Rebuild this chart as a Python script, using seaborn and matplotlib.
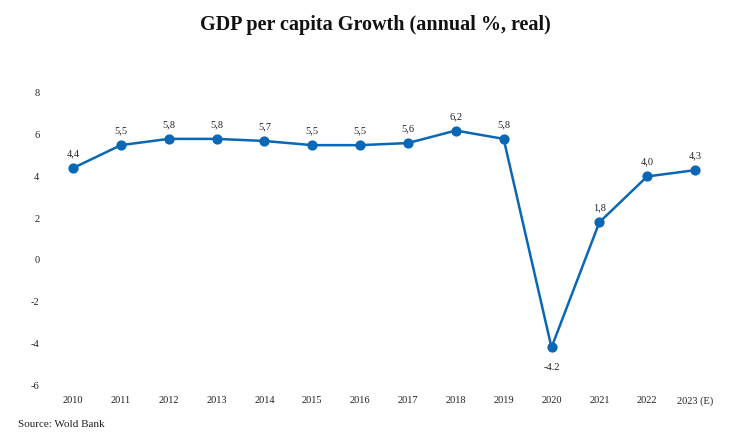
import matplotlib
matplotlib.use("Agg")
import matplotlib.pyplot as plt
import seaborn as sns
import pandas as pd

years = ["2010", "2011", "2012", "2013", "2014", "2015", "2016", "2017",
         "2018", "2019", "2020", "2021", "2022", "2023 (E)"]
growth = [4.4, 5.5, 5.8, 5.8, 5.7, 5.5, 5.5, 5.6, 6.2, 5.8, -4.2, 1.8, 4.0, 4.3]
value_labels = ["4,4", "5,5", "5,8", "5,8", "5,7", "5,5", "5,5", "5,6",
                "6,2", "5,8", "-4.2", "1,8", "4,0", "4,3"]
y_ticks = [-6, -4, -2, 0, 2, 4, 6, 8]

df = pd.DataFrame({"year": years, "growth": growth})

sns.set_theme(style="white")
plt.rcParams["font.family"] = ["Liberation Serif", "DejaVu Serif"]

W, H = 750, 440
fig = plt.figure(figsize=(W / 100, H / 100), dpi=100)
left_px, right_px, top_px, bottom_px = 45, 722, 93, 385
ax = fig.add_axes([left_px / W, 1 - bottom_px / H,
                   (right_px - left_px) / W, (bottom_px - top_px) / H])

color = "#0a67b5"
sns.pointplot(data=df, x="year", y="growth", color=color, ax=ax,
              markers="o", markersize=6, linewidth=1.8, errorbar=None)

step = 47.85
x0 = (73 - left_px) / step
ax.set_xlim(-x0, -x0 + (right_px - left_px) / step)
ax.set_ylim(-6, 8)
ax.set_yticks(y_ticks)
ax.set_yticklabels([str(t) for t in y_ticks])

for i, (v, lab) in enumerate(zip(growth, value_labels)):
    if v < 0:
        ax.annotate(lab, (i, v), xytext=(0, -11), textcoords="offset points",
                    ha="center", va="top", fontsize=7.5, color="#222222")
    else:
        ax.annotate(lab, (i, v), xytext=(0, 7), textcoords="offset points",
                    ha="center", va="bottom", fontsize=7.5, color="#222222")

for s in ax.spines.values():
    s.set_visible(False)
ax.grid(False)
ax.set_xlabel("")
ax.set_ylabel("")
ax.tick_params(axis="both", length=0, labelsize=7.5, colors="#222222")
ax.tick_params(axis="x", pad=8)
ax.tick_params(axis="y", pad=4)

fig.text(0.5, 1 - 25 / H, "GDP per capita Growth (annual %, real)",
         ha="center", va="center", fontsize=14.5, fontweight="bold", color="#111111")
fig.text(18 / W, 1 - 424 / H, "Source: Wold Bank", ha="left", va="center",
         fontsize=8, color="#222222")

fig.savefig("out.png", dpi=100)
